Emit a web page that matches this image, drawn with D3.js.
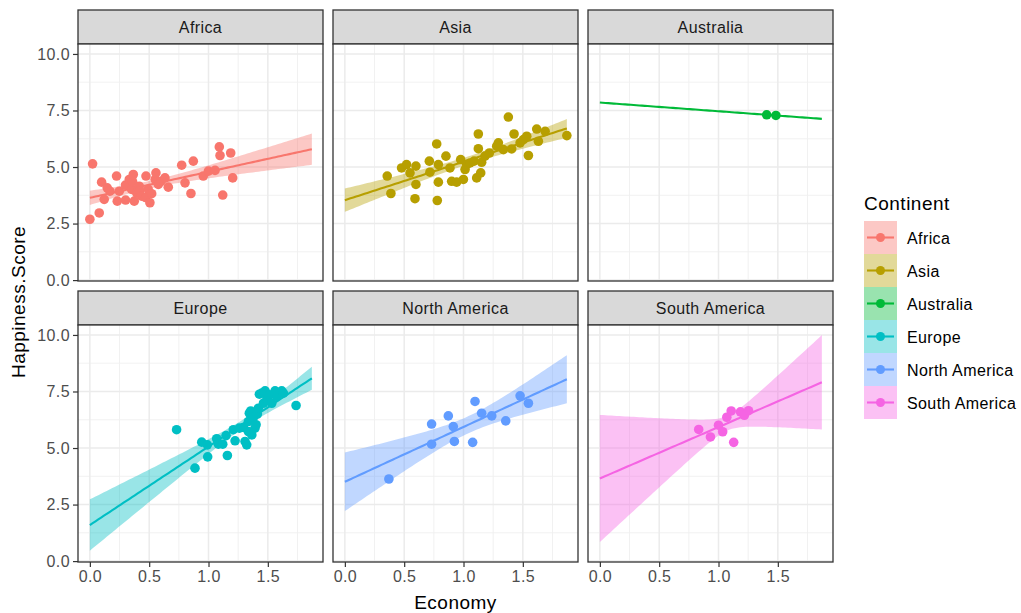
<!DOCTYPE html>
<html>
<head>
<meta charset="utf-8">
<script src="https://cdn.jsdelivr.net/npm/d3@7"></script>
<style>
    body { margin: 0; background: #fff; }
    svg text { font-family: "Liberation Sans", Arial, sans-serif; }
</style>
</head>
<body>
<div id="chart"></div>
<script>
// Data: [Economy, Happiness.Score]
var continents = ["Africa", "Asia", "Australia", "Europe", "North America", "South America"];
var colors = ["#F8766D", "#B79F00", "#00BA38", "#00BFC4", "#619CFF", "#F564E3"];

var africa = [[0.0, 2.69], [0.023, 5.14], [0.079, 2.97], [0.099, 4.33], [0.121, 3.57], [0.146, 4.08],
    [0.169, 3.93], [0.225, 4.60], [0.231, 3.49], [0.248, 3.93], [0.301, 3.54], [0.30, 4.20], [0.332, 4.45],
    [0.352, 4.01], [0.36, 4.35], [0.366, 4.67], [0.374, 3.49], [0.394, 3.86], [0.416, 4.15], [0.42, 3.95],
    [0.436, 3.71], [0.47, 3.65], [0.473, 4.60], [0.492, 4.01], [0.506, 3.42], [0.521, 3.82], [0.55, 4.45],
    [0.557, 4.74], [0.577, 4.23], [0.599, 4.37], [0.633, 4.52], [0.661, 4.11], [0.774, 5.08], [0.802, 4.30],
    [0.852, 3.83], [0.872, 5.26], [0.956, 4.60], [0.999, 4.82], [1.055, 4.85], [1.091, 5.89], [1.097, 5.51],
    [1.120, 3.76], [1.187, 5.62], [1.204, 4.52]];

var asia = [[0.357, 4.60], [0.388, 3.83], [0.478, 4.96], [0.520, 5.11], [0.549, 4.74], [0.591, 3.60],
    [0.599, 4.23], [0.599, 5.04], [0.712, 5.26], [0.717, 4.77], [0.774, 6.02], [0.779, 3.52], [0.788, 4.33],
    [0.788, 5.11], [0.852, 5.48], [0.886, 4.96], [0.900, 4.37], [0.942, 4.33], [0.976, 5.33], [0.999, 4.45],
    [1.013, 4.89], [1.027, 5.11], [1.055, 5.18], [1.089, 5.26], [1.111, 4.52], [1.125, 6.46], [1.125, 5.81],
    [1.145, 4.74], [1.153, 5.21], [1.181, 5.48], [1.218, 5.62], [1.280, 5.92], [1.294, 6.07], [1.336, 5.77],
    [1.378, 7.21], [1.406, 5.80], [1.426, 6.46], [1.477, 6.07], [1.505, 6.21], [1.533, 6.36], [1.547, 5.51],
    [1.617, 6.68], [1.631, 6.14], [1.688, 6.58], [1.871, 6.39]];

var australia = [[1.406, 7.31], [1.484, 7.28]];

var europe = [[0.731, 5.81], [0.886, 4.11], [0.943, 5.26], [0.990, 5.14], [0.993, 4.61], [1.069, 5.41],
    [1.083, 5.17], [1.120, 5.17], [1.148, 5.55], [1.159, 4.67], [1.209, 5.81], [1.224, 5.32], [1.260, 5.88],
    [1.294, 5.91], [1.308, 5.29], [1.322, 5.14], [1.336, 6.17], [1.336, 5.73], [1.344, 6.54], [1.356, 6.64],
    [1.365, 5.58], [1.378, 6.35], [1.392, 5.88], [1.401, 6.03], [1.412, 6.50], [1.420, 6.76], [1.429, 7.38],
    [1.449, 7.43], [1.463, 6.98], [1.477, 7.53], [1.491, 7.13], [1.513, 7.35], [1.533, 6.98], [1.561, 7.53],
    [1.575, 7.28], [1.617, 7.53], [1.631, 7.43], [1.738, 6.88]];

var northAmerica = [[0.371, 3.63], [0.731, 6.06], [0.731, 5.17], [0.872, 6.42], [0.914, 5.95], [0.923, 5.29],
    [1.077, 5.25], [1.097, 7.06], [1.153, 6.54], [1.238, 6.42], [1.356, 6.20], [1.477, 7.31], [1.547, 6.98]];

var southAmerica = [[0.833, 5.82], [0.932, 5.49], [1.000, 6.01], [1.035, 5.72], [1.070, 6.36], [1.107, 6.64],
    [1.128, 5.25], [1.185, 6.60], [1.218, 6.45], [1.253, 6.65]];

var seriesData = [africa, asia, australia, europe, northAmerica, southAmerica];

var xTicks = [0, 0.5, 1.0, 1.5];
var xMinor = [0.25, 0.75, 1.25, 1.75];
var yTicks = [0, 2.5, 5.0, 7.5, 10.0];
var yMinor = [1.25, 3.75, 6.25, 8.75];

// Layout
var width = 1021, height = 613;
var panelW = 245, panelH = 237, stripH = 34;
var left0 = 78, top0 = 10, colStep = 255, rowStep = 281;

var svg = d3.select("#chart").append("svg")
    .attr("width", width)
    .attr("height", height);

// fitted line range = range of all Economy values
var allX = [].concat.apply([], seriesData).map(function(d) { return d[0]; });
var xMax = d3.max(allX);

var x = d3.scaleLinear().domain([-0.1, 1.965]).range([0, panelW]);
var y = d3.scaleLinear().domain([-0.04, 10.44]).range([panelH, 0]);

// t quantile (0.975) via Cornish-Fisher expansion
function qt975(df) {
    var z = 1.959964, z3 = z * z * z, z5 = z3 * z * z, z7 = z5 * z * z;
    return z + (z3 + z) / (4 * df) + (5 * z5 + 16 * z3 + 3 * z) / (96 * df * df)
        + (3 * z7 + 19 * z5 + 17 * z3 - 15 * z) / (384 * df * df * df);
}

// simple linear model with confidence band
function lmFit(pts) {
    var n = pts.length;
    var mx = d3.mean(pts, function(d) { return d[0]; });
    var my = d3.mean(pts, function(d) { return d[1]; });
    var sxx = d3.sum(pts, function(d) { return (d[0] - mx) * (d[0] - mx); });
    var sxy = d3.sum(pts, function(d) { return (d[0] - mx) * (d[1] - my); });
    var b = sxy / sxx, a = my - b * mx;
    var df = n - 2;
    var rss = d3.sum(pts, function(d) { var r = d[1] - (a + b * d[0]); return r * r; });
    var s = df > 0 ? Math.sqrt(rss / df) : NaN;
    var t = df > 0 ? qt975(df) : NaN;
    return d3.range(80).map(function(i) {
        var xv = xMax * i / 79;
        var fit = a + b * xv;
        var se = s * Math.sqrt(1 / n + (xv - mx) * (xv - mx) / sxx);
        return { x: xv, fit: fit, lo: fit - t * se, hi: fit + t * se };
    });
}

continents.forEach(function(name, i) {
    var col = i % 3, row = Math.floor(i / 3);
    var px = left0 + col * colStep;
    var py = top0 + row * rowStep + stripH;
    var color = colors[i];
    var pts = seriesData[i];

    // strip
    svg.append("rect")
        .attr("x", px).attr("y", py - stripH)
        .attr("width", panelW).attr("height", stripH)
        .style("fill", "#D9D9D9").style("stroke", "#333333").style("stroke-width", 1.3);
    svg.append("text")
        .attr("x", px + panelW / 2).attr("y", py - stripH / 2)
        .attr("dy", "0.36em").attr("text-anchor", "middle")
        .style("font-size", "16px").style("letter-spacing", "0.4px").style("fill", "#1A1A1A")
        .text(name);

    var g = svg.append("g").attr("transform", "translate(" + px + "," + py + ")");
    g.append("rect").attr("width", panelW).attr("height", panelH).style("fill", "#fff");

    // grid
    g.selectAll(".xminor").data(xMinor).enter().append("line")
        .attr("x1", x).attr("x2", x).attr("y1", 0).attr("y2", panelH)
        .style("stroke", "#EFEFEF").style("stroke-width", 0.9);
    g.selectAll(".yminor").data(yMinor).enter().append("line")
        .attr("y1", y).attr("y2", y).attr("x1", 0).attr("x2", panelW)
        .style("stroke", "#EFEFEF").style("stroke-width", 0.9);
    g.selectAll(".xmajor").data(xTicks).enter().append("line")
        .attr("x1", x).attr("x2", x).attr("y1", 0).attr("y2", panelH)
        .style("stroke", "#EBEBEB").style("stroke-width", 1.5);
    g.selectAll(".ymajor").data(yTicks).enter().append("line")
        .attr("y1", y).attr("y2", y).attr("x1", 0).attr("x2", panelW)
        .style("stroke", "#EBEBEB").style("stroke-width", 1.5);

    // clip
    var clipId = "clip" + i;
    g.append("clipPath").attr("id", clipId)
        .append("rect").attr("width", panelW).attr("height", panelH);
    var inner = g.append("g").attr("clip-path", "url(#" + clipId + ")");

    var band = lmFit(pts);
    if (pts.length > 2) {
        inner.append("path")
            .datum(band)
            .attr("d", d3.area()
                .x(function(d) { return x(d.x); })
                .y0(function(d) { return y(d.lo); })
                .y1(function(d) { return y(d.hi); }))
            .style("fill", color).style("fill-opacity", 0.4);
    }
    inner.append("path")
        .datum(band)
        .attr("d", d3.line()
            .x(function(d) { return x(d.x); })
            .y(function(d) { return y(d.fit); }))
        .style("fill", "none").style("stroke", color).style("stroke-width", 2.1);

    inner.selectAll("circle")
        .data(pts)
        .enter()
        .append("circle")
        .attr("cx", function(d) { return x(d[0]); })
        .attr("cy", function(d) { return y(d[1]); })
        .attr("r", 4.8)
        .style("fill", color);

    g.append("rect").attr("width", panelW).attr("height", panelH)
        .style("fill", "none").style("stroke", "#333333").style("stroke-width", 1.3);

    // axes on the outer panels only
    if (col === 0) {
        var ya = g.append("g").call(d3.axisLeft(y).tickValues(yTicks)
            .tickFormat(d3.format(".1f")).tickSize(5).tickPadding(3));
        ya.select(".domain").remove();
        ya.selectAll("line").style("stroke", "#333333").style("stroke-width", 1.2);
        ya.selectAll("text").style("font-size", "16px").style("letter-spacing", "0.4px")
            .style("fill", "#4D4D4D").attr("font-family", null);
    }
    if (row === 1) {
        var xa = g.append("g").attr("transform", "translate(0," + panelH + ")")
            .call(d3.axisBottom(x).tickValues(xTicks)
                .tickFormat(d3.format(".1f")).tickSize(5).tickPadding(4));
        xa.select(".domain").remove();
        xa.selectAll("line").style("stroke", "#333333").style("stroke-width", 1.2);
        xa.selectAll("text").style("font-size", "16px").style("letter-spacing", "0.4px")
            .style("fill", "#4D4D4D").attr("font-family", null);
    }
});

// axis titles
svg.append("text")
    .attr("x", left0 + (2 * colStep + panelW) / 2).attr("y", 609)
    .attr("text-anchor", "middle")
    .style("font-size", "19px").style("letter-spacing", "0.5px")
    .text("Economy");
svg.append("text")
    .attr("transform", "translate(25,302) rotate(-90)")
    .attr("text-anchor", "middle")
    .style("font-size", "19px").style("letter-spacing", "0.5px")
    .text("Happiness.Score");

// legend
var legend = svg.append("g").attr("transform", "translate(864,221)");
legend.append("text")
    .attr("x", 0).attr("y", -11)
    .style("font-size", "19px").style("letter-spacing", "0.5px")
    .text("Continent");
var keys = legend.selectAll(".key")
    .data(continents)
    .enter()
    .append("g")
    .attr("transform", function(d, i) { return "translate(0," + i * 33 + ")"; });
keys.append("rect")
    .attr("width", 33).attr("height", 33)
    .style("fill", function(d, i) { return colors[i]; })
    .style("fill-opacity", 0.4);
keys.append("line")
    .attr("x1", 3).attr("x2", 30).attr("y1", 16.5).attr("y2", 16.5)
    .style("stroke", function(d, i) { return colors[i]; })
    .style("stroke-width", 2.1);
keys.append("circle")
    .attr("cx", 16.5).attr("cy", 16.5).attr("r", 4.5)
    .style("fill", function(d, i) { return colors[i]; });
keys.append("text")
    .attr("x", 43).attr("y", 17.5).attr("dy", "0.36em")
    .style("font-size", "16px").style("letter-spacing", "0.4px")
    .text(function(d) { return d; });
</script>
</body>
</html>
